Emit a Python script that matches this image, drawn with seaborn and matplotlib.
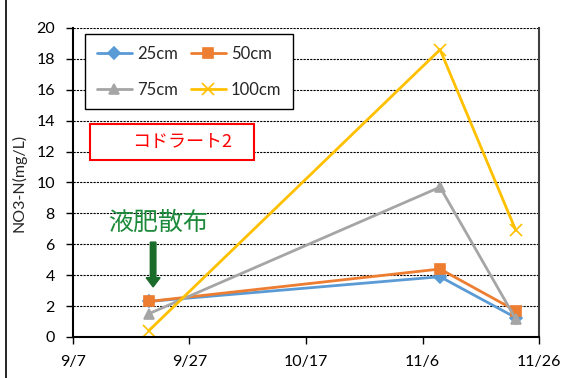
import matplotlib
matplotlib.use('Agg')
import matplotlib.pyplot as plt
from matplotlib.patches import Rectangle, FancyArrow
import numpy as np
import pandas as pd
import seaborn as sns

# sampling dates and NO3-N values per depth
dates = ['9/20', '11/9', '11/22']
depths = ['25cm', '50cm', '75cm', '100cm']
no3_25 = [2.3, 3.9, 1.25]
no3_50 = [2.3, 4.4, 1.7]
no3_75 = [1.5, 9.7, 1.15]
no3_100 = [0.4, 18.6, 6.9]
xtick_labels = ['9/7', '9/27', '10/17', '11/6', '11/26']
yticks = [0, 2, 4, 6, 8, 10, 12, 14, 16, 18, 20]

YEAR = '2019/'
df = pd.DataFrame({
    'date': pd.to_datetime([YEAR + d for d in dates] * 4),
    'depth': np.repeat(depths, len(dates)),
    'val': no3_25 + no3_50 + no3_75 + no3_100,
})

palette = {'25cm': '#5B9BD5', '50cm': '#ED7D31', '75cm': '#A5A5A5', '100cm': '#FFC000'}
markers = {'25cm': 'D', '50cm': 's', '75cm': '^', '100cm': 'x'}
msizes = {'25cm': 6, '50cm': 7, '75cm': 7, '100cm': 8}

sns.set_style('white')
plt.rcParams['font.family'] = ['Lato', 'Noto Sans CJK JP', 'DejaVu Sans']

fig = plt.figure(figsize=(5.61, 3.78), dpi=100)
ax = fig.add_axes((0.130, 0.1085, 0.831, 0.8175))

for d in depths:
    sns.lineplot(data=df[df.depth == d], x='date', y='val', color=palette[d],
                 marker=markers[d], markersize=msizes[d], markeredgecolor=palette[d],
                 markeredgewidth=1.2, linewidth=2, ax=ax, label=d)

xt = pd.to_datetime([YEAR + s for s in xtick_labels])
ax.set_xlim(xt[0], xt[-1])
ax.set_xticks(xt)
ax.set_xticklabels(xtick_labels)
ax.set_ylim(0, 20)
ax.set_yticks(yticks)
ax.set_xlabel('')
ax.set_ylabel('NO3-N(mg/L)', fontsize=11.5, labelpad=7)

ax.yaxis.grid(True, linestyle=(0, (2, 1)), color='black', linewidth=0.8)
ax.set_axisbelow(True)
ax.tick_params(axis='both', direction='out', length=5, width=1, labelsize=11.5,
               left=True, bottom=True, colors='black')
ax.tick_params(axis='x', pad=8)
ax.tick_params(axis='y', pad=8)
for s in ['left', 'bottom']:
    ax.spines[s].set_color('black')
    ax.spines[s].set_linewidth(1.5)
ax.spines['right'].set_color('#404040')
ax.spines['right'].set_linewidth(1.5)
ax.spines['top'].set_visible(False)

# legend filled row by row like the original
h, l = ax.get_legend_handles_labels()
order = [0, 2, 1, 3]
leg = ax.legend([h[i] for i in order], [l[i] for i in order], ncol=2,
                loc='upper left', bbox_to_anchor=(0.026, 0.981), borderaxespad=0,
                fontsize=12, frameon=True, fancybox=False, edgecolor='black',
                framealpha=1, handlelength=2.1, columnspacing=0.8,
                labelspacing=1.2, borderpad=0.7, handletextpad=0.3)
leg.get_frame().set_linewidth(1.0)

# コドラート2 label box
ax.add_patch(Rectangle((0.036, 0.573), 0.352, 0.116, transform=ax.transAxes,
                       fill=True, facecolor='white', edgecolor='red', lw=1.5, zorder=5))
ax.text(0.235, 0.63, 'コドラート2', transform=ax.transAxes, color='red',
        fontsize=13, ha='center', va='center', zorder=6,
        family=['Noto Sans CJK JP', 'DejaVu Sans'])

# fertiliser annotation
ax.text(0.183, 0.37, '液肥散布', transform=ax.transAxes, color='#1E8A3C',
        fontsize=18, ha='center', va='center',
        family=['Noto Sans CJK JP', 'DejaVu Sans'])
ax.add_patch(FancyArrow(0.172, 0.307, 0, -0.145, width=0.012, head_width=0.03,
                        head_length=0.03, length_includes_head=True,
                        transform=ax.transAxes, color='#1B6B2B', zorder=6))

# outer chart frame (partly cropped)
fig.add_artist(Rectangle((6 / 561, -0.2), 1.2, 1.2 + (1 - 8 / 378),
                         transform=fig.transFigure, fill=False,
                         edgecolor='black', lw=1.2))

fig.savefig('out.png', dpi=100)
